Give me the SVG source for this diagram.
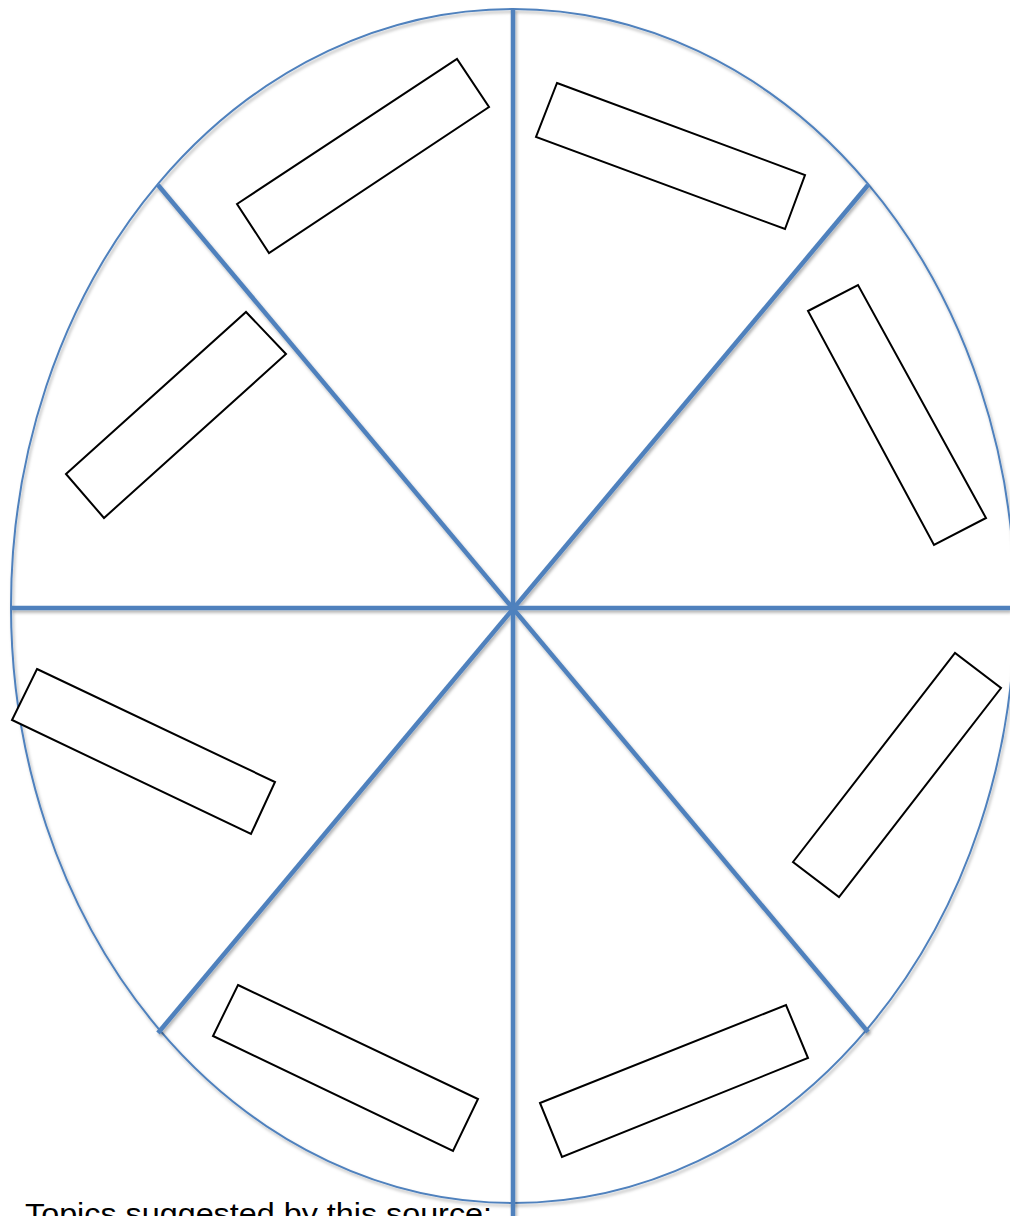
<svg xmlns="http://www.w3.org/2000/svg" width="1010" height="1216" viewBox="0 0 1010 1216">
<defs>
<filter id="sh" x="-5%" y="-5%" width="110%" height="110%">
<feDropShadow dx="1.5" dy="2.5" stdDeviation="1.5" flood-color="#000" flood-opacity="0.3"/>
</filter>
<style>
.rim{fill:none;stroke:#4f81bd;stroke-width:2}
.spoke{stroke:#4f81bd;stroke-width:4.5;fill:none}
.box{fill:#fff;stroke:#000;stroke-width:2;stroke-linejoin:miter}
.lbl{font-family:"Liberation Sans",Arial,sans-serif;font-size:29px;fill:#000}
</style>
</defs>
<rect width="1010" height="1216" fill="#fff"/>
<g id="wheel" filter="url(#sh)">
<ellipse class="rim" cx="513" cy="606" rx="502" ry="597"/>
</g>
<g id="connectors" filter="url(#sh)">
<line class="spoke" x1="513" y1="9" x2="513" y2="1216"/>
<line class="spoke" x1="11" y1="608" x2="1010" y2="608"/>
<line class="spoke" x1="158" y1="185" x2="868" y2="1032"/>
<line class="spoke" x1="868" y1="185" x2="158" y2="1033"/>
</g>
<g id="box1"><polygon class="box" points="237,204 457,59 489,107 269,253"/></g>
<g id="box2"><polygon class="box" points="557,83 805,175 785,229 536,137"/></g>
<g id="box3"><polygon class="box" points="66,474 246,312 286,354 104,518"/></g>
<g id="box4"><polygon class="box" points="808,311 858,285 986,518 934,545"/></g>
<g id="box5"><polygon class="box" points="37,669 275,782 251,834 12,720"/></g>
<g id="box6"><polygon class="box" points="793,862 955,653 1001,688 839,897"/></g>
<g id="box7"><polygon class="box" points="238,985 478,1099 453,1151 213,1036"/></g>
<g id="box8"><polygon class="box" points="540,1103 786,1005 808,1058 562,1157"/></g>
<g id="caption"><text class="lbl" x="25" y="1224" textLength="467" lengthAdjust="spacingAndGlyphs">Topics suggested by this source:</text></g>
</svg>
